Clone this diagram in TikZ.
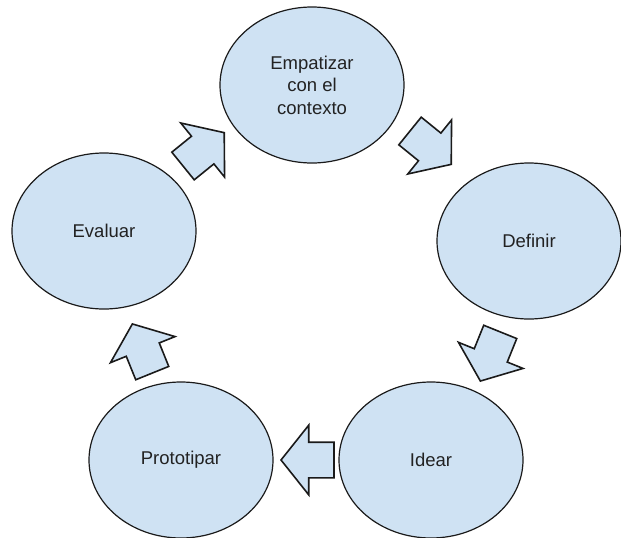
\documentclass[tikz,border=0pt]{standalone}
\usepackage{fontspec}
\setmainfont{Liberation Sans}
\usetikzlibrary{shapes.geometric, shapes.arrows, positioning}
\definecolor{dtFill}{HTML}{CFE2F3}
\definecolor{dtLine}{HTML}{1A1A1A}
\definecolor{dtText}{HTML}{222222}
\tikzset{
  phase/.style={
    draw=dtLine, ellipse, fill=dtFill, line width=1.2pt,
    minimum width=184pt, minimum height=156pt, inner sep=0pt,
    align=center, text=dtText, font=\fontsize{18.5}{22.5}\selectfont
  },
  blockarrow/.style={
    single arrow, draw=dtLine, fill=dtFill, line width=1.6pt,
    minimum height=53pt, inner xsep=0pt, inner ysep=17pt,
    single arrow head extend=17pt, single arrow tip angle=103, anchor=tip
  }
}
\begin{document}
\begin{tikzpicture}[x=1pt,y=1pt]
  \useasboundingbox (0,0) rectangle (621,-538);
  % fases del ciclo
  \node[phase] (empatizar) at (312,-85) {Empatizar\\con el\\contexto};
  \node[phase] (definir) at (529,-241) {Definir};
  \node[phase] (idear) at (431,-460) {Idear};
  \node[phase] (prototipar) at (181,-460) {Prototipar};
  \node[phase] (evaluar) at (104,-231) {Evaluar};
  % flechas entre fases
  \foreach \n/\x/\y/\ang in {
    ev-em/225/-132/39,
    em-de/452/-165/-39,
    de-id/480/-382/-112,
    id-pr/280/-460/180,
    pr-ev/132/-323/112}{
    \node[blockarrow, rotate=\ang] (\n) at (\x,\y) {};
  }
\end{tikzpicture}
\end{document}
